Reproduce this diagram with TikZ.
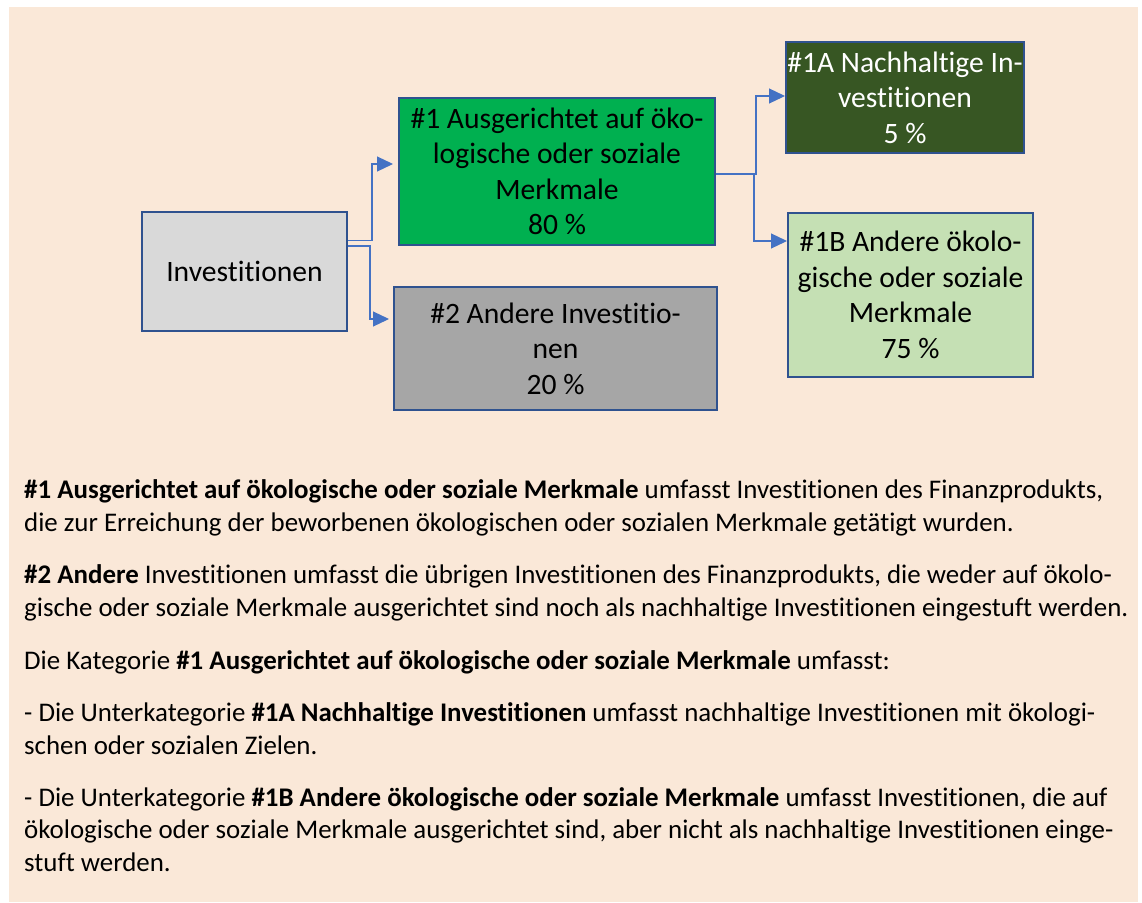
\documentclass[tikz,border=0pt]{standalone}
\usepackage{fontspec}
\setmainfont[Ligatures=NoCommon]{Carlito}
\usepackage{xcolor}
\usepackage{tikz}
\usetikzlibrary{arrows.meta}

\definecolor{bgsand}{HTML}{FAE8D8}
\definecolor{edgeblue}{HTML}{2F528F}
\definecolor{linkblue}{HTML}{4472C4}
\definecolor{invgrey}{HTML}{D9D9D9}
\definecolor{othgrey}{HTML}{A6A6A6}
\definecolor{esgreen}{HTML}{00B050}
\definecolor{susgreen}{HTML}{375623}
\definecolor{paleegreen}{HTML}{C5E0B4}

\begin{document}
\begin{tikzpicture}[
    x=1pt, y=-1pt,
    catbox/.style ={draw=edgeblue, line width=2pt, rectangle, inner sep=0pt, align=center,
                    font=\fontsize{29.6}{35.5}\selectfont},
    conn/.style   ={draw=linkblue, line width=1.2pt, -{Triangle[length=16pt, width=15pt]}},
    para/.style   ={anchor=base west, align=left, inner sep=0pt, font=\fontsize{26.9}{32.2}\selectfont},
  ]
  % ---- page frame ----
  \useasboundingbox (0,0) rectangle (1142,902);
  \fill[bgsand] (9,7) rectangle (1138,902);

  % ---- category boxes ----
  \node[catbox, fill=invgrey, minimum width=205pt, minimum height=119pt] (inv) at (244.5,271.5) {Investitionen};
  \node[catbox, fill=esgreen, minimum width=316pt, minimum height=147pt] (es) at (557,171.5)
    {\#1 Ausgerichtet auf öko-\\logische oder soziale\\Merkmale\\80 \%};
  \node[catbox, fill=othgrey, minimum width=323pt, minimum height=123pt] (oth) at (555.5,348.5)
    {\#2 Andere Investitio-\\nen\\20 \%};
  \node[catbox, fill=susgreen, text=white, minimum width=238pt, minimum height=111pt] (sus) at (905,97.5)
    {\#1A Nachhaltige In-\\vestitionen\\5 \%};
  \node[catbox, fill=paleegreen, minimum width=245pt, minimum height=164pt] (oes) at (910.5,295)
    {\#1B Andere ökolo-\\gische oder soziale\\Merkmale\\75 \%};

  % ---- connectors ----
  \draw[conn, shorten >=5pt] ([yshift=30.8pt]inv.east) -- ++(24,0) |- ([yshift=7.5pt]es.west);
  \draw[conn, shorten >=4pt] ([yshift=25.5pt]inv.east) -- ++(22,0) |- ([yshift=29.5pt]oth.west);
  \draw[conn] ([yshift=-2.5pt]es.east) -- ++(40,0) |- ([yshift=1.5pt]sus.west);
  \draw[conn] ([yshift=-2.5pt]es.east) -- ++(38,0) |- ([yshift=54pt]oes.west);

  % ---- explanatory text (placed at the baseline of each last line) ----
  \node[para] (p1) at (24,531) {\textbf{\#1 Ausgerichtet auf ökologische oder soziale Merkmale} umfasst Investitionen des Finanzprodukts,\\
    die zur Erreichung der beworbenen ökologischen oder sozialen Merkmale getätigt wurden.};
  \node[para] (p2) at (24,616) {\textbf{\#2 Andere} Investitionen umfasst die übrigen Investitionen des Finanzprodukts, die weder auf ökolo-\\
    gische oder soziale Merkmale ausgerichtet sind noch als nachhaltige Investitionen eingestuft werden.};
  \node[para] (p3) at (24,669) {Die Kategorie \textbf{\#1 Ausgerichtet auf ökologische oder soziale Merkmale} umfasst:};
  \node[para] (p4) at (24,754) {- Die Unterkategorie \textbf{\#1A Nachhaltige Investitionen} umfasst nachhaltige Investitionen mit ökologi-\\
    schen oder sozialen Zielen.};
  \node[para] (p5) at (24,871) {- Die Unterkategorie \textbf{\#1B Andere ökologische oder soziale Merkmale} umfasst Investitionen, die auf\\
    ökologische oder soziale Merkmale ausgerichtet sind, aber nicht als nachhaltige Investitionen einge-\\
    stuft werden.};
\end{tikzpicture}
\end{document}
